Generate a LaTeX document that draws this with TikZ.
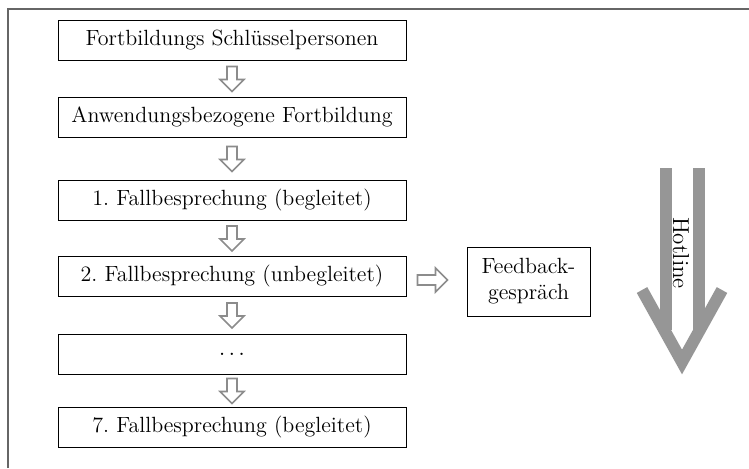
\documentclass[tikz,border=0pt]{standalone}
\usepackage{tikz}
\usetikzlibrary{calc}
\frenchspacing
\definecolor{frm}{rgb}{.4,.4,.4}
\definecolor{lg}{rgb}{.55,.55,.55}
\definecolor{hot}{rgb}{.59,.59,.59}
\tikzstyle{stage}=[draw=black, fill=white, line width=.5pt, minimum width=174pt, minimum height=20pt, inner sep=0pt, font=\fontsize{11}{13}\selectfont]
\tikzstyle{smallarrow}=[draw=lg, fill=white, line width=.8pt, line join=miter]
\tikzstyle{hotarrow}=[draw=hot, line width=6pt, line join=miter]

\begin{document}
\begin{tikzpicture}[x=.5pt, y=-.5pt]

      \useasboundingbox (0,0) rectangle (749,468);
      \draw[frm, line width=.6pt] (8,468) -- (8,9) -- (749,9);

      \node[stage] (schl) at (232,40) {Fortbildungs Schlüsselpersonen};
      \node[stage] (anw) at (232,117) {Anwendungsbezogene Fortbildung};
      \node[stage] (fall1) at (232,200) {1. Fallbesprechung (begleitet)};
      \node[stage] (fall2) at (232,276) {2. Fallbesprechung (unbegleitet)};
      \node[stage] (fallx) at (232,354) {$\ldots$};
      \node[stage] (fall7) at (232,427) {7. Fallbesprechung (begleitet)};

      \node[stage, minimum width=61.5pt, minimum height=34.5pt, align=center]
        (feedback) at (528.5,281.5) {Feedback-\\gespräch};

      % small hollow arrows between the stages
      \foreach \a/\b in {schl/anw, anw/fall1, fall1/fall2, fall2/fallx, fallx/fall7}
        \draw[smallarrow] ($(\a.south)!.5!(\b.north)$) ++(-5,-12) -- ++(10,0)
          -- ++(0,13) -- ++(7,0) -- ++(-12,12) -- ++(-12,-12) -- ++(7,0) -- cycle;

      % to the feedback
      \draw[smallarrow] ($(fall2.east)+(11,4)$) ++(0,-5) -- ++(18,0) -- ++(0,-7)
        -- ++(12,12) -- ++(-12,12) -- ++(0,-7) -- ++(-18,0) -- cycle;

      % hotline
      \draw[hotarrow] (666,168) -- (666,330);
      \draw[hotarrow] (699,168) -- (699,330);
      \draw[hotarrow] (642,290) -- (682,362) -- (722,290);
      \node[rotate=-90, font=\fontsize{11.5}{13}\selectfont] (hotline) at (681,253) {Hotline};

\end{tikzpicture}
\end{document}
